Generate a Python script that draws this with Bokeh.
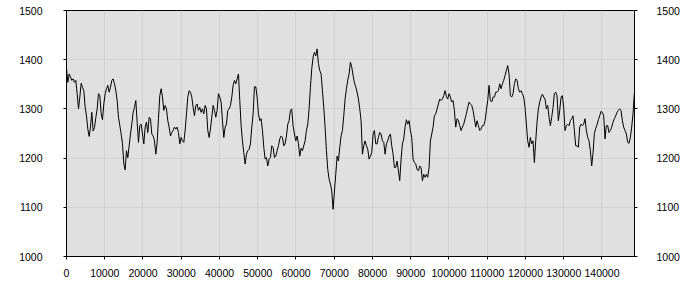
import numpy as np
from bokeh.plotting import figure
from bokeh.models import Range1d, LinearAxis, SingleIntervalTicker, BasicTickFormatter
from bokeh.embed import file_html
from bokeh.resources import INLINE

# Sample spacing along the x axis (data units) and the sampled series values
SAMPLE_STEP = 348.5
values = [
    1382, 1354, 1371, 1365, 1358, 1361, 1354, 1358, 1331, 1300,
    1324, 1352, 1344, 1337, 1303, 1286, 1259, 1244, 1263, 1293,
    1255, 1262, 1282, 1300, 1331, 1327, 1290, 1278, 1310, 1331,
    1341, 1348, 1334, 1344, 1358, 1361, 1351, 1337, 1317, 1283,
    1266, 1249, 1229, 1188, 1176, 1215, 1201, 1225, 1249, 1269,
    1293, 1303, 1317, 1273, 1232, 1266, 1269, 1249, 1229, 1263,
    1273, 1252, 1283, 1280, 1249, 1245, 1235, 1208, 1232,
    1280, 1327, 1341,
    1324, 1297, 1307, 1300, 1276, 1263, 1245, 1252, 1256, 1263,
    1259, 1263, 1252, 1229, 1242, 1235, 1232, 1256, 1290, 1324,
    1337, 1334, 1324, 1303, 1286, 1307, 1310, 1297, 1303, 1293,
    1300, 1290, 1307, 1300, 1256, 1242, 1259, 1283, 1307, 1297,
    1283, 1297, 1331, 1324, 1314, 1276, 1242, 1263, 1269, 1297,
    1300, 1307, 1324, 1348, 1358, 1351, 1361, 1371, 1317, 1266,
    1235, 1211, 1188, 1208, 1215, 1218, 1229, 1263, 1290,
    1345, 1345, 1324,
    1290, 1276, 1280, 1256, 1222, 1198, 1201, 1184, 1198, 1201,
    1225, 1222, 1201, 1204, 1215, 1225, 1239, 1245, 1242, 1225,
    1229, 1245, 1269, 1276, 1297, 1300,
    1265, 1249, 1235, 1245, 1229, 1204, 1220, 1215, 1225, 1235,
    1256, 1269, 1300, 1344, 1382, 1405, 1415, 1408, 1422, 1392,
    1378, 1371, 1337, 1303, 1263, 1215, 1177, 1157, 1147, 1133,
    1096, 1133, 1167, 1204, 1194, 1222, 1245, 1256, 1286, 1320,
    1341, 1358, 1371,
    1395, 1385, 1368, 1353, 1345, 1334, 1320, 1300, 1276, 1208,
    1225, 1235, 1225, 1218, 1198, 1204, 1211, 1249, 1256, 1229,
    1229, 1242, 1252, 1249, 1235, 1232, 1208, 1229, 1235, 1245,
    1249, 1225, 1208, 1181, 1181, 1194, 1174, 1154, 1198, 1229,
    1239, 1263, 1278, 1269, 1276, 1256, 1242, 1198, 1191, 1188,
    1177, 1174, 1184, 1181, 1154, 1167, 1161, 1167, 1161, 1181,
    1235, 1249, 1263, 1286, 1290, 1300, 1310, 1320, 1317, 1320,
    1327, 1337,
    1325, 1320, 1331, 1324, 1314, 1317, 1297, 1263, 1280, 1276,
    1266, 1256, 1263, 1269, 1280, 1290, 1303, 1314, 1310, 1307,
    1297, 1280, 1263, 1276, 1266, 1256, 1259, 1266, 1266, 1276,
    1297, 1317, 1348, 1317, 1314, 1324, 1324, 1334, 1334, 1337,
    1351, 1341, 1351, 1358, 1368, 1378, 1388, 1371, 1327, 1324,
    1331, 1351, 1361, 1358, 1341, 1334, 1337, 1331, 1324, 1303,
    1269, 1235, 1222, 1242, 1229, 1235, 1191, 1235, 1273, 1300,
    1314, 1324,
    1330, 1324, 1320, 1300, 1307, 1283, 1266, 1283, 1303, 1331,
    1334, 1327, 1276, 1297, 1324, 1327, 1303, 1256, 1266, 1269,
    1266, 1276, 1280, 1286, 1256, 1225, 1225, 1222, 1263, 1269,
    1266, 1269, 1280, 1256, 1242, 1235, 1215, 1184, 1210, 1250,
    1260, 1268, 1278, 1286, 1295, 1293, 1286, 1239, 1266, 1266,
    1252, 1256, 1263, 1273, 1280, 1286, 1293, 1297, 1300, 1297,
    1276, 1263, 1256, 1249, 1232, 1230, 1242, 1263, 1290, 1331,
]
x_values = np.arange(len(values)) * SAMPLE_STEP

X_START, X_END = 0, 148500
Y_START, Y_END = 1000, 1500
X_TICK_STEP = 10000
Y_TICK_STEP = 100

FONT = "Liberation Sans"
FONT_SIZE = "10.5px"

p = figure(width=700, height=300,
           x_range=Range1d(X_START, X_END), y_range=Range1d(Y_START, Y_END),
           output_backend="svg", toolbar_location=None,
           min_border_left=66, min_border_right=66,
           min_border_top=10, min_border_bottom=44,
           y_axis_location="left")

p.background_fill_color = "#e0e0e0"
p.border_fill_color = "white"
p.outline_line_color = "black"
p.outline_line_alpha = 1.0
p.outline_line_width = 1

p.line(x_values, values, line_color="black", line_width=1)

p.xaxis.ticker = SingleIntervalTicker(interval=X_TICK_STEP)
p.yaxis.ticker = SingleIntervalTicker(interval=Y_TICK_STEP)
p.xgrid.ticker = SingleIntervalTicker(interval=X_TICK_STEP)
p.ygrid.ticker = SingleIntervalTicker(interval=Y_TICK_STEP)
p.xaxis.formatter = BasicTickFormatter(use_scientific=False)
p.yaxis.formatter = BasicTickFormatter(use_scientific=False)

right_axis = LinearAxis(ticker=SingleIntervalTicker(interval=Y_TICK_STEP),
                        formatter=BasicTickFormatter(use_scientific=False))
p.add_layout(right_axis, "right")

for ax in [p.xaxis[0], p.yaxis[0], right_axis]:
    ax.axis_line_color = "black"
    ax.major_tick_line_color = "black"
    ax.minor_tick_line_color = None
    ax.major_tick_in = 0
    ax.major_tick_out = 3
    ax.major_label_text_font = FONT
    ax.major_label_text_font_size = FONT_SIZE
    ax.major_label_text_color = "black"

p.xaxis.major_label_standoff = 8
p.yaxis.major_label_standoff = 20
right_axis.major_label_standoff = 18

p.xgrid.grid_line_color = "#d0d0d0"
p.ygrid.grid_line_color = "#d0d0d0"

open("out.html", "w").write(file_html(p, INLINE))
